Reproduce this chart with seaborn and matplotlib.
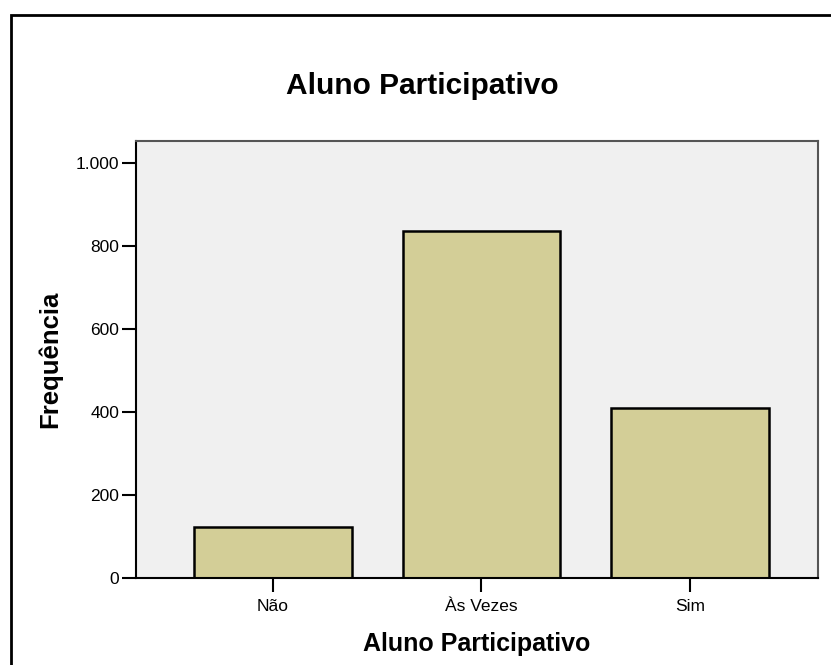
import matplotlib
matplotlib.use("Agg")
import matplotlib.pyplot as plt
import seaborn as sns
import pandas as pd
from matplotlib.patches import Rectangle
from matplotlib.ticker import FuncFormatter

# Data
categorias = ["Não", "Às Vezes", "Sim"]
frequencias = [123, 836, 410]

sns.set_style("white")
plt.rcParams["font.family"] = ["Liberation Sans", "DejaVu Sans"]
plt.rcParams["text.color"] = "black"
plt.rcParams["axes.labelcolor"] = "black"
plt.rcParams["xtick.color"] = "black"
plt.rcParams["ytick.color"] = "black"

df = pd.DataFrame({"resposta": categorias, "freq": frequencias})

fig = plt.figure(figsize=(8.31, 6.65), dpi=100)
ax = fig.add_axes([136 / 831, 1 - 578 / 665, (818 - 136) / 831, (578 - 141) / 665])

sns.barplot(data=df, x="resposta", y="freq", color="#D3CE97", saturation=1,
            width=0.755, edgecolor="black", linewidth=1.8, ax=ax)

ax.set_facecolor("#F0F0F0")
ax.set_xlim(-0.657, 2.614)
ax.set_ylim(0, 1053)
ax.set_yticks([0, 200, 400, 600, 800, 1000])
ax.yaxis.set_major_formatter(FuncFormatter(lambda v, p: f"{int(v):,}".replace(",", ".")))
ax.tick_params(axis="both", direction="out", length=10, width=1.5, color="black",
               labelsize=12.5, pad=2, left=True, bottom=True)
ax.tick_params(axis="x", pad=5)

for side in ["left", "bottom"]:
    ax.spines[side].set_color("black")
    ax.spines[side].set_linewidth(1.5)
for side in ["top", "right"]:
    ax.spines[side].set_color("#555555")
    ax.spines[side].set_linewidth(1.5)

ax.set_xlabel("Aluno Participativo", fontsize=18, fontweight="bold", labelpad=13)
ax.set_ylabel("Frequência", fontsize=18.5, fontweight="bold", labelpad=10)
fig.text(422 / 831, 1 - 86 / 665, "Aluno Participativo", fontsize=21.5,
         fontweight="bold", ha="center", va="center")

# outer frame (cut at right and bottom edges)
fig.patches.append(Rectangle((11 / 831, -0.1), 1.2, 1 - 15 / 665 + 0.1,
                             transform=fig.transFigure, fill=False,
                             edgecolor="black", linewidth=2))

fig.savefig("out.png", dpi=100)
